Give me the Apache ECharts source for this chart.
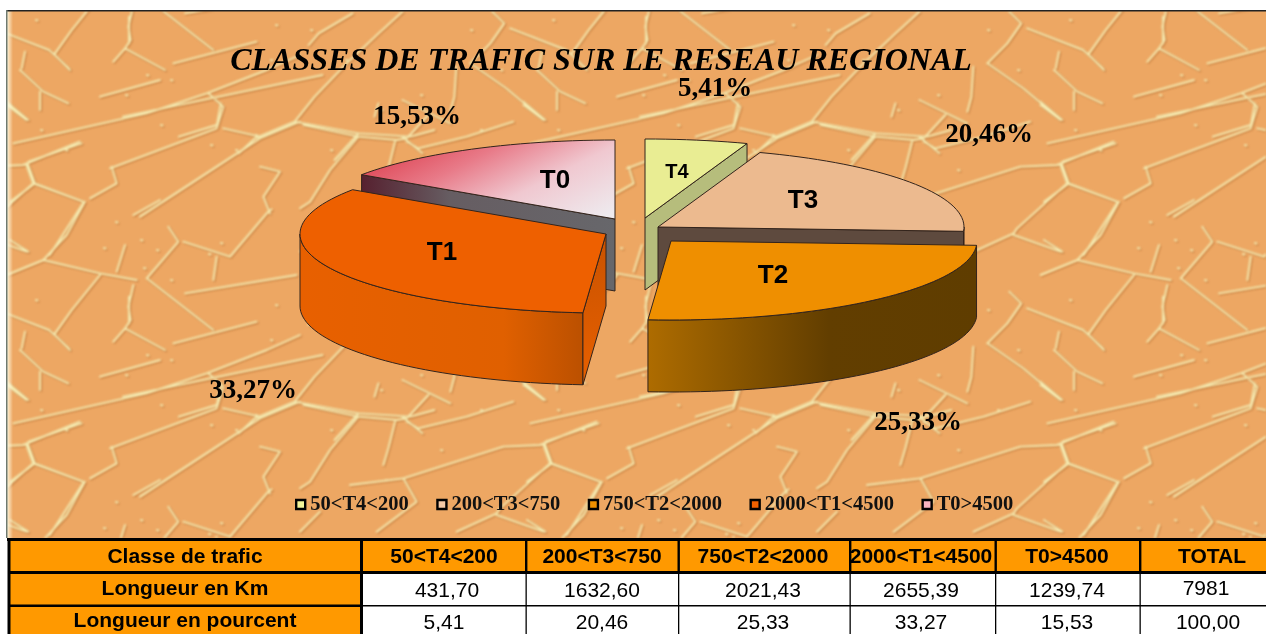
<!DOCTYPE html>
<html><head><meta charset="utf-8">
<style>html,body{margin:0;padding:0;background:#fff}#c{width:1266px;height:634px}</style>
<script src="https://cdn.jsdelivr.net/npm/echarts@6/dist/echarts.min.js"></script>
</head><body><div id="c"></div>
<script>
// ---- data ----
const sliceNames = ['T4','T3','T2','T1','T0'];
const classLabels = ['50<T4<200','200<T3<750','750<T2<2000','2000<T1<4500','T0>4500'];
const lengthKm = ['431,70','1632,60','2021,43','2655,39','1239,74'];
const percents = [5.41,20.46,25.33,33.27,15.53];
const totalKm = '7981';
const totalPercent = '100,00';
const titleText = 'CLASSES DE TRAFIC SUR LE RESEAU REGIONAL';
const rowHeads = ['Classe de trafic','Longueur en Km','Longueur en pourcent'];

// ---- drawing style ----
const RX=306, RY=79, DEPTH=72;
const explodedCentre = [[645,218],[658,227],[671,241],[606,234],[615,219]];
const pctLabelAt = [[715,89],[989,135],[918,423],[253,391],[417,117]];
const nameLabelAt = [[677,172],[803,201],[773,276],[442,253],[555,181]];
const nameLabelSize = [20,26,26,26,26];
const seriesZ = [2,3,5,4,2];
const LG = (x0,y0,x1,y1,st)=>new echarts.graphic.LinearGradient(x0,y0,x1,y1,st.map((c)=>({offset:c[0],color:c[1]})));
const topFill = [
  '#e9ed93','#ecba8f','#ef8f00','#ee6000',
  LG(0,.436,.26,2.08,[[0,'#e0505f'],[.25,'#e87a88'],[.6,'#f0c8d0'],[1,'#eeeaee']])
];
const legendFill = ['#f3f59a','#f3c9a6','#f09000','#ee6000','#f8b4c0'];
const faceFill = [
  '#b6bd7c','#5e4a3e','#5e4a3e',
  LG(0,0,1,1,[[0,'#c85200'],[1,'#e86000']]),
  LG(0,0,1,0,[[0,'#56202f'],[.35,'#665d62'],[1,'#67676b']])
];
const wallFill = [
  '#b6bd7c','#5e4a3e',
  LG(0,0,1,0,[[0,'#ae6c00'],[.55,'#623e00'],[1,'#5f3d00']]),
  LG(0,0,1,0,[[0,'#e86000'],[.72,'#e06000'],[1,'#bb5000']]),
  '#67676b'
];

// ---- background texture (crack lines traced in a tile of 517 x 280) ----
const TILE_W=517,TILE_H=280;
const cracksA=[[[20,225],[130,180],[200,105],[255,5]],[[130,180],[300,220],[410,240]],[[300,225],[215,330],[165,400]],[[400,255],[385,320],[392,360],[375,385],[340,425]],[[375,385],[495,450]],[[505,80],[535,125],[440,235]],[[440,235],[640,390]],[[550,125],[690,170],[800,40],[815,28]],[[650,170],[640,240]],[[400,45],[480,0]],[[555,280],[890,225]],[[30,120],[85,155]],[[375,135],[350,215]],[[60,450],[130,515],[205,550]],[[75,395],[65,445]],[[120,515],[120,570]],[[160,400],[210,450]],[[20,545],[85,600]],[[40,670],[440,580],[620,520],[800,450],[900,405]],[[300,530],[480,480]],[[520,430],[770,365]],[[85,725],[245,670]],[[330,745],[650,625],[670,560],[625,520]],[[85,735],[105,790],[250,845]],[[105,790],[30,845]],[[335,740],[350,790],[270,835]],[[420,890],[780,655],[900,605]],[[670,625],[780,650]],[[780,740],[840,755],[790,830],[810,880]]];
const cracksB=[[[700,35],[640,100],[560,190],[480,290],[430,365],[330,415],[290,460]],[[575,40],[490,100],[465,135]],[[925,35],[955,70],[920,130],[870,190]],[[870,190],[960,265],[1050,355]],[[835,200],[830,290],[820,335]],[[970,85],[1110,150],[1160,205]],[[430,365],[590,400],[720,410],[780,390]],[[590,400],[530,480]],[[700,410],[750,460]],[[640,310],[630,350]],[[700,300],[820,370]],[[0,350],[240,290],[500,225]],[[245,310],[235,375],[140,410]],[[15,50],[15,130]]];
const cracksC=[[[10,60],[175,95],[90,195],[30,290],[0,310]],[[175,95],[290,105],[320,100],[385,30]],[[285,110],[265,190],[250,240]],[[320,110],[355,130],[500,95],[640,50]],[[310,280],[610,185],[720,180],[890,110]],[[150,300],[310,280],[350,350],[230,440]],[[730,180],[750,235],[600,370],[590,385],[470,440]],[[750,235],[900,290]],[[590,390],[730,440]],[[900,295],[800,450]],[[0,440],[60,380]],[[670,0],[730,45]]];
const bumps=[[143,268],[115,222],[140,240],[156,250],[103,248],[208,254],[220,243],[170,280],[146,75],[170,80],[125,95],[160,125],[210,145],[235,150],[255,135],[40,130],[65,150],[270,60],[275,25],[35,20],[310,30],[345,60],[380,110],[420,95],[470,30],[500,70],[440,170],[330,150],[385,200],[480,130]];
function makeTexture(w,h){
  const cv=document.createElement('canvas');cv.width=w;cv.height=h;
  const g=cv.getContext('2d');
  g.fillStyle='#eda763';g.fillRect(0,0,w,h);
  const lines=[];
  cracksA.forEach(p=>lines.push(p.map(q=>[q[0]/3,200+q[1]/3])));
  cracksB.forEach(p=>lines.push(p.map(q=>[640+q[0]/2.505,q[1]/3])));
  cracksC.forEach(p=>lines.push(p.map(q=>[300+q[0]/3,385+q[1]/3])));
  const layer=(stroke,lw,dx,dy)=>{
    const lc=document.createElement('canvas');lc.width=w;lc.height=h;
    const c=lc.getContext('2d');
    c.strokeStyle=stroke;c.lineWidth=lw;c.lineJoin='round';c.lineCap='round';
    c.beginPath();
    for(let ix=-3;ix<=3;ix++)for(let iy=-2;iy<=3;iy++){
      const ox=ix*TILE_W+dx-7,oy=iy*TILE_H+dy-11;
      lines.forEach(p=>{p.forEach((q,i)=>{const x=q[0]+ox,y=q[1]+oy;i?c.lineTo(x,y):c.moveTo(x,y)});});
      bumps.forEach(b=>{c.moveTo(b[0]+ox+1,b[1]+oy);c.lineTo(b[0]+ox+2.5,b[1]+oy+.5);});
    }
    c.stroke();
    return lc;
  };
  g.filter='blur(0.8px)';
  g.globalAlpha=.6;g.drawImage(layer('#b87034',1.9,1.3,1.3),0,0);
  g.globalAlpha=1;g.drawImage(layer('#f5eab0',1.9,0,0),0,0);
  g.filter='none';
  const gr=g.createLinearGradient(0,0,6,0);gr.addColorStop(0,'rgba(255,250,225,.95)');gr.addColorStop(1,'rgba(255,250,225,0)');
  g.fillStyle=gr;g.fillRect(0,0,6,h);
  return cv;
}

// ---- 3D pie slices, angles come from the percent values ----
function arc(cx,cy,a0,a1,dy){
  const pts=[],n=Math.max(2,Math.ceil(Math.abs(a1-a0)/2));
  for(let i=0;i<=n;i++){const t=(a0+(a1-a0)*i/n)*Math.PI/180;pts.push([cx+RX*Math.sin(t),cy-RY*Math.cos(t)+dy]);}
  return pts;
}
const STROKE={stroke:'#33241c',lineWidth:1,lineJoin:'round'};
const percentSum=percents.reduce((a,b)=>a+b,0);
function renderSlice(idx){
  return function(params,api){
    const v=api.value(0);
    let before=0;for(let i=0;i<idx;i++)before+=percents[i];
    const a0=before/percentSum*360,a1=(before+v)/percentSum*360;
    const cx=explodedCentre[idx][0],cy=explodedCentre[idx][1];
    const kids=[];
    const poly=(points,fill)=>kids.push({type:'polygon',shape:{points},style:Object.assign({fill},STROKE)});
    const lo=Math.max(a0,90),hi=Math.min(a1,270);
    if(hi>lo){
      const up=arc(cx,cy,lo,hi,0),dn=arc(cx,cy,lo,hi,DEPTH).reverse();
      poly(up.concat(dn),wallFill[idx]);
    }
    const face=(a)=>{const o=arc(cx,cy,a,a,0)[0];poly([[cx,cy],o,[o[0],o[1]+DEPTH],[cx,cy+DEPTH]],faceFill[idx]);};
    if(a0>180&&a0<360)face(a0);
    if(a1>0&&a1<180)face(a1);
    poly([[cx,cy]].concat(arc(cx,cy,a0,a1,0)),topFill[idx]);
    kids.push({type:'text',style:{text:sliceNames[idx],x:nameLabelAt[idx][0],y:nameLabelAt[idx][1],fontFamily:'Liberation Sans',fontWeight:'bold',fontSize:nameLabelSize[idx],fill:'#000',align:'center',verticalAlign:'middle'}});
    kids.push({type:'text',style:{text:v.toFixed(2).replace('.',',')+'%',x:pctLabelAt[idx][0],y:pctLabelAt[idx][1],fontFamily:'Liberation Serif',fontWeight:'bold',fontSize:27,fill:'#000',align:'center',verticalAlign:'middle'}});
    return {type:'group',children:kids};
  };
}

// ---- table ----
const colEdges=[9,361,525.5,678,849.5,995,1139.5,1266];
const colCentre=[185,444,602,763,921,1067,1208];
function tableGraphics(){
  const out=[];
  const rect=(x,y,w,h,fill,z)=>out.push({type:'rect',silent:true,z:z||10,shape:{x,y,width:w,height:h},style:{fill}});
  const text=(s,x,y,bold)=>out.push({type:'text',silent:true,z:13,style:{text:s,x,y,align:'center',verticalAlign:'middle',fontFamily:'Liberation Sans',fontWeight:bold?'bold':'normal',fontSize:21,fill:'#000'}});
  rect(9,540,1257,94,'#fff');
  rect(9,540,1257,32.5,'#ff9900',11);
  rect(9,572,352,62,'#ff9900',11);
  rect(7,538,1259,3,'#000',12);
  rect(7.5,538,3,96,'#000',12);
  rect(9,571,1257,3,'#000',12);
  rect(9,604.5,352,2.5,'#000',12);
  rect(361,605,905,1.5,'#000',12);
  rect(360,538,3,96,'#000',12);
  colEdges.slice(2,-1).forEach(x=>{rect(x-.5,540,2.4,33,'#000',12);rect(x,573,1.3,61,'#000',12);});
  const rows=[557,591,623];
  const heads=classLabels.concat(['TOTAL']);
  const row2=lengthKm.concat([totalKm]);
  const row3=percents.map(p=>p.toFixed(2).replace('.',',')).concat([totalPercent]);
  rowHeads.forEach((s,i)=>text(s,colCentre[0],rows[i]-(i?2:0),true));
  heads.forEach((s,i)=>text(s,s==='TOTAL'?1212:colCentre[i+1],rows[0],true));
  row2.forEach((s,i)=>text(s,colCentre[i+1]+(i==0?3:0)-(i==5?2:0),rows[1]-(i==5?2:0),false));
  row3.forEach((s,i)=>text(s,colCentre[i+1],rows[2],false));
  return out;
}

// ---- chart ----
const chart=echarts.init(document.getElementById('c'),null,{renderer:'canvas',width:1266,height:634});
const tex=makeTexture(1259,527);
chart.setOption({
  animation:false,
  backgroundColor:'#ffffff',
  title:{text:titleText,left:596,top:41,textAlign:'center',textStyle:{fontFamily:'Liberation Serif',fontStyle:'italic',fontWeight:'bold',fontSize:32,color:'#000'}},
  legend:{left:290,top:489,itemWidth:9,itemHeight:9,itemGap:27.5,icon:'rect',selectedMode:false,
    data:classLabels.map((n,i)=>({name:n,itemStyle:{color:legendFill[i],borderColor:'#000',borderWidth:2.4}})),
    textStyle:{fontFamily:'Liberation Serif',fontWeight:'bold',fontSize:20.5,color:'#111'}},
  graphic:[
    {type:'image',silent:true,z:-5,style:{image:tex,x:7,y:11,width:1259,height:527}},
    {type:'rect',silent:true,z:-4,shape:{x:6,y:10,width:1260,height:1.5},style:{fill:'#222'}},
    {type:'rect',silent:true,z:-4,shape:{x:6,y:10,width:1.5,height:528},style:{fill:'#6f7a70'}}
  ].concat(tableGraphics()),
  series:classLabels.map((n,i)=>({
    type:'custom',name:n,coordinateSystem:'none',z:seriesZ[i],silent:true,
    itemStyle:{color:legendFill[i]},
    renderItem:renderSlice(i),
    data:[{value:[percents[i]],name:sliceNames[i]}]
  }))
});
</script></body></html>
